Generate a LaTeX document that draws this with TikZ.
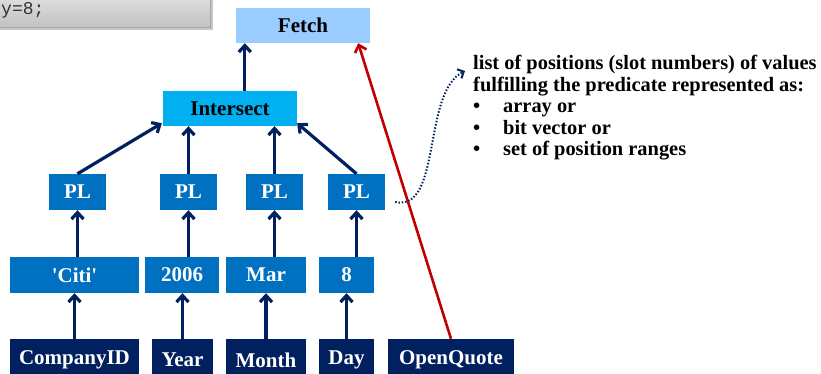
\documentclass[tikz,border=0pt]{standalone}
\usepackage{fontspec}
\setmainfont{Liberation Serif}
\setmonofont{Liberation Mono}
\newfontfamily\boxfont{Liberation Serif}
\usetikzlibrary{arrows.meta}

\definecolor{fetchblue}{HTML}{99CCFF}
\definecolor{interblue}{HTML}{00B0F0}
\definecolor{plblue}{HTML}{0070C0}
\definecolor{colnavy}{HTML}{002060}
\definecolor{quotered}{HTML}{C00000}

\begin{document}
\begin{tikzpicture}[x=1pt,y=-1pt,
    opbox/.style={inner sep=0pt, minimum height=35pt, text=black,
        font=\boxfont\fontsize{21}{24}\selectfont\bfseries},
    plbox/.style={inner sep=0pt, minimum height=36pt, fill=plblue, text=white,
        font=\boxfont\fontsize{21}{24}\selectfont\bfseries},
    colbox/.style={inner sep=0pt, minimum height=42pt, fill=colnavy, text=white,
        font=\boxfont\fontsize{21}{24}\selectfont\bfseries},
    flow/.style={colnavy, line width=3.2pt, -{Straight Barb[length=6.5pt,width=12pt]}}]

            \useasboundingbox (0,0) rectangle (821,373);
            \clip (0,0) rectangle (821,373);

            % code box (cut)
            \fill [black!22] (-10,-10) rectangle (213,30);
            \shade [top color=black!10, bottom color=black!24, draw=black!35] (-10,-10) rectangle (210,27);
            \node [anchor=west, inner sep=0pt, text=black!80, font=\ttfamily\fontsize{18}{18}\selectfont] (code) at (1,10) {y=8;};

            % Fetch and Intersect
            \node [opbox, fill=fetchblue, minimum width=134pt] (fetch) at (303,25.5) {Fetch};
            \node [opbox, fill=interblue, minimum width=134pt] (intersect) at (230,108.5) {Intersect};

            % PL
            \node [plbox, minimum width=57pt] (pl1) at (77.5,192) {PL};
            \node [plbox, minimum width=57pt] (pl2) at (188.5,192) {PL};
            \node [plbox, minimum width=57pt] (pl3) at (274.5,192) {PL};
            \node [plbox, minimum width=57pt] (pl4) at (356.5,192) {PL};

            % values
            \node [plbox, minimum width=129pt] (citi) at (74.5,275) {'Citi'};
            \node [plbox, minimum width=74pt] (y2006) at (182,275) {2006};
            \node [plbox, minimum width=80pt] (mar) at (266,275) {Mar};
            \node [plbox, minimum width=55pt] (d8) at (346.5,275) {8};

            % columns
            \node [colbox, minimum width=129pt] (companyid) at (74.5,360) {CompanyID};
            \node [colbox, minimum width=61pt] (year) at (182.5,360) {Year};
            \node [colbox, minimum width=80pt] (month) at (266,360) {Month};
            \node [colbox, minimum width=55pt] (day) at (346.5,360) {Day};
            \node [colbox, minimum width=126pt] (openquote) at (451,360) {OpenQuote};

            % |
            \draw [flow] (companyid.north) -- (companyid.north |- citi.south);
            \draw [flow] (year.north) -- (year.north |- y2006.south);
            \draw [flow] (month.north) -- (month.north |- mar.south);
            \draw [flow] (day.north) -- (day.north |- d8.south);

            \draw [flow] (citi.north -| pl1.south) -- (pl1.south);
            \draw [flow] (y2006.north -| pl2.south) -- (pl2.south);
            \draw [flow] (mar.north -| pl3.south) -- (pl3.south);
            \draw [flow] (d8.north -| pl4.south) -- (pl4.south);

            \draw [flow] (pl1.north) -- ([xshift=-1pt,yshift=3pt]intersect.south west);
            \draw [flow] (pl2.north) -- (pl2.north |- intersect.south);
            \draw [flow] (pl3.north) -- (pl3.north |- intersect.south);
            \draw [flow] (pl4.north) -- ([yshift=3pt]intersect.south east);

            \draw [flow] ([xshift=82pt]intersect.north west) -- ([xshift=82pt]intersect.north west |- fetch.south);

            % OpenQuote
            \draw [flow, quotered, line width=2.6pt] (openquote.north) -- ([xshift=-12pt]fetch.south east);

            % label
            \node [anchor=north west, align=left, inner sep=0pt, font=\fontsize{20.4}{21.5}\selectfont\bfseries] (note) at (473,55)
                {list of positions (slot numbers) of values\\
                 fulfilling the predicate represented as:\\
                 \makebox[30pt][l]{\textbullet}array or\\
                 \makebox[30pt][l]{\textbullet}bit vector or\\
                 \makebox[30pt][l]{\textbullet}set of position ranges};

            \coordinate (dotstart) at ([xshift=10pt,yshift=-10pt]pl4.east);
            \coordinate (dotend) at ([xshift=-8pt,yshift=-16pt]note.north west);
            \draw [colnavy, line width=2pt, dash pattern=on 1.5pt off 1.8pt, -{Straight Barb[length=5pt,width=10pt]}]
                (dotstart) .. controls (442,212) and (422,92) .. (dotend);
	\end{tikzpicture}
\end{document}
